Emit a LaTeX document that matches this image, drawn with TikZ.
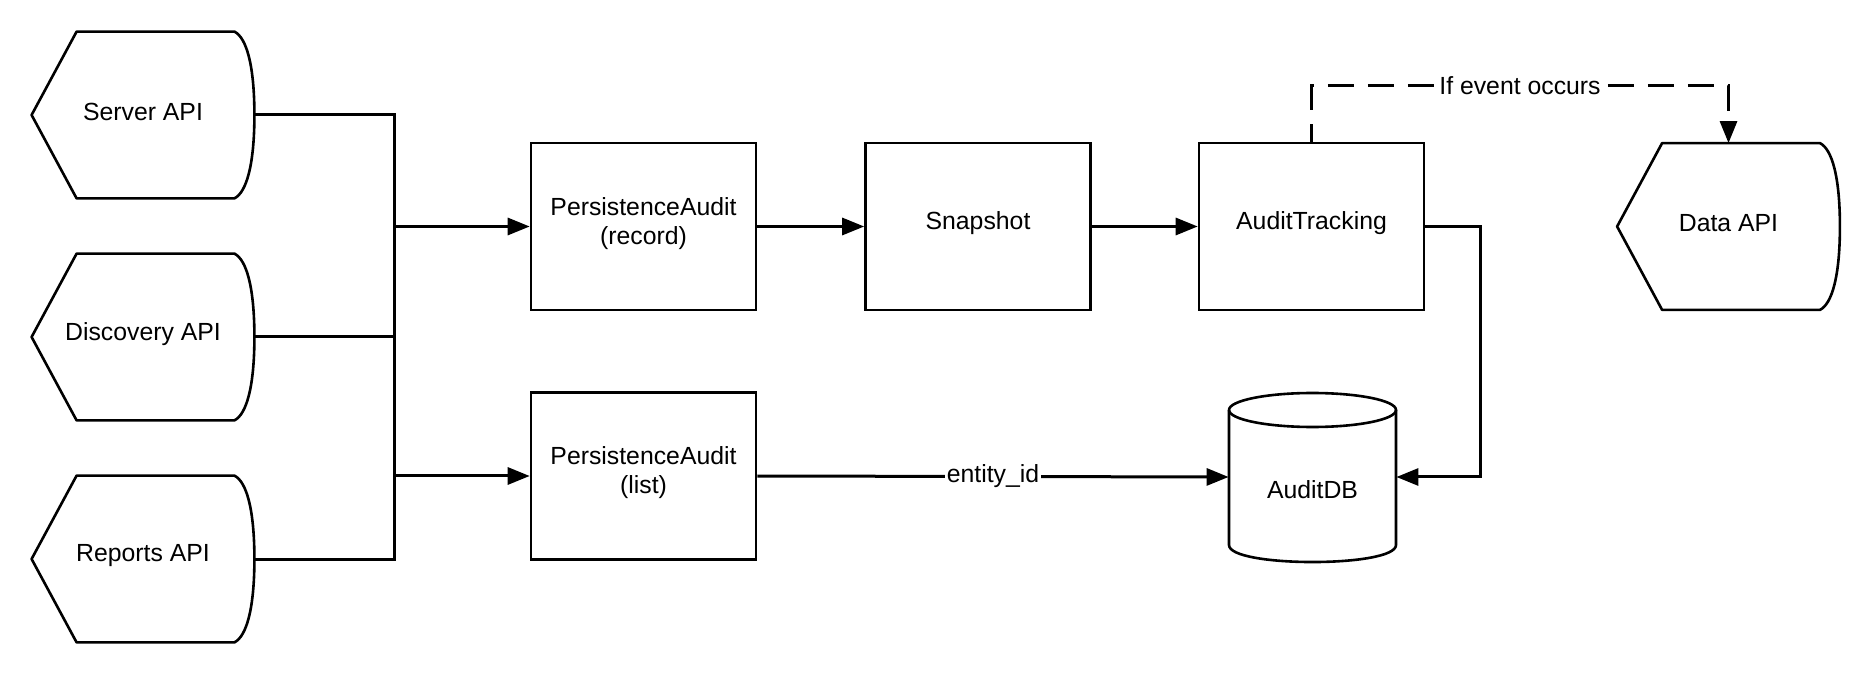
\documentclass[tikz,border=0pt]{standalone}
\usepackage{fontspec}
\setmainfont{Liberation Sans}
\usetikzlibrary{arrows.meta,calc}
\newcommand{\dispoutline}[1]{%
  \draw[shapeline] (#1.west) -- ($(#1.north west)+(45,0)$) -- ($(#1.north east)+(-20,0)$)
    .. controls ($(#1.north east)+(-8,6)$) and ($(#1.east)+(0,-50)$) .. (#1.east)
    .. controls ($(#1.east)+(0,50)$) and ($(#1.south east)+(-8,-6)$) .. ($(#1.south east)+(-20,0)$)
    -- ($(#1.south west)+(45,0)$) -- cycle;}
\begin{document}
\begin{tikzpicture}[x=0.5pt,y=-0.5pt,
  every node/.style={font=\fontsize{12.4}{14.5}\selectfont, align=center, inner sep=0pt},
  shapeline/.style={line width=1.3pt, line join=round},
  boxnode/.style={draw, line width=1.3pt, minimum width=112.5pt, minimum height=83.5pt},
  dispnode/.style={minimum width=111pt, minimum height=83pt},
  txt/.style={yshift=1.5pt},
  ln/.style={line width=1.5pt},
  arr/.style={ln, -{Triangle[length=11pt,width=8.5pt]}},
  dsh/.style={arr, dash pattern=on 13pt off 7pt, dash phase=4pt},
  lbl/.style={fill=white, inner sep=1pt}]
\useasboundingbox (0,0) rectangle (1872,694);

% display shapes
\node[dispnode] (srv) at (143,115) {};
\node[dispnode] (dis) at (143,337) {};
\node[dispnode] (rep) at (143,559) {};
\node[dispnode] (data) at (1728.5,226.5) {};
\dispoutline{srv}
\dispoutline{dis}
\dispoutline{rep}
\dispoutline{data}
\node[txt] (srvt) at (srv) {Server API};
\node[txt] (dist) at (dis) {Discovery API};
\node[txt] (rept) at (rep) {Reports API};
\node[txt] (datat) at (data) {Data API};

% process boxes
\node[boxnode] (par) at (643.5,226.5) {};
\node[boxnode] (pal) at (643.5,476) {};
\node[boxnode] (snap) at (978,226.5) {};
\node[boxnode] (at) at (1311.5,226.5) {};
\node[txt] (part) at (par) {PersistenceAudit\\(record)};
\node[txt] (palt) at (pal) {PersistenceAudit\\(list)};
\node[txt] (snapt) at (snap) {Snapshot};
\node[txt] (att) at (at) {AuditTracking};

% database
\node[minimum width=83.5pt, minimum height=84.5pt] (db) at (1312.5,477) {};
\node (dbt) at (1312.5,490) {AuditDB};
\draw[shapeline] (1229,410) -- (1229,545) .. controls (1229,567.7) and (1396,567.7) .. (1396,545) -- (1396,410);
\draw[shapeline] (1312.5,410) ellipse [x radius=83.5, y radius=17];

% bus
\coordinate (bus) at (394,0);
\draw[ln] (srv.east) -- (srv.east -| bus) |- (rep.east);
\draw[ln] (dis.east) -- (dis.east -| bus);
\draw[arr] (par.west -| bus) -- (par.west);
\draw[arr] (pal.west -| bus) -- (pal.west);

% main flow
\draw[arr] (par.east) -- (snap.west);
\draw[arr] (snap.east) -- (at.west);
\draw[arr] (pal.east) -- node[lbl] (eid) {entity\_id} (db.west);
\coordinate (r1) at (1480,477);
\draw[arr] (at.east) -| (r1) -- (db.east);

% dashed event
\coordinate (top) at (0,86);
\draw[dsh] (at.north) -- (at.north |- top) -- node[lbl] (ev) {If event occurs} (data.north |- top) -- (data.north);
\end{tikzpicture}
\end{document}
